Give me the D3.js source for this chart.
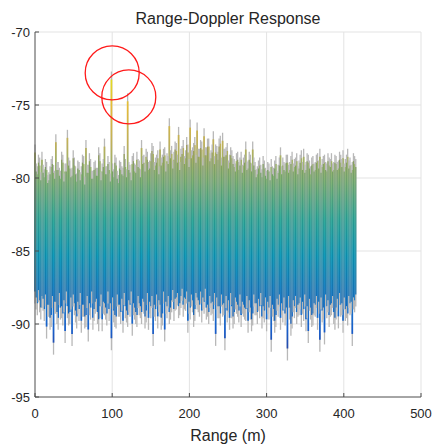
<!DOCTYPE html>
<html>
<head>
<meta charset="utf-8">
<script src="https://cdn.jsdelivr.net/npm/d3@7"></script>
<style>
  html, body { margin: 0; padding: 0; background: #fff; }
  svg { display: block; font-family: "Liberation Sans", Arial, Helvetica, sans-serif; }
</style>
</head>
<body>
<svg id="chart" width="435" height="447"></svg>
<script>
// ---------------- data ----------------
const rangeStep = 3; // metres between range bins
const rangeBins = d3.range(0, 415, rangeStep); // 0 .. 414 m
// highest response per range bin, first Doppler group (dB)
const peakLevel = [
  -77.7,-79.2,-78.6,-78.2,-79.4,-78.9,-79.6,-78.7,-79.1,-77.0,
  -78.9,-79.5,-78.4,-79.0,-76.7,-78.8,-79.3,-78.6,-79.7,-78.9,
  -79.2,-78.5,-77.4,-79.1,-78.7,-79.5,-78.8,-79.3,-78.3,-79.0,
  -77.3,-79.2,-78.9,-72.7,-79.4,-78.6,-79.8,-78.9,-79.3,-78.7,
  -74.2,-79.1,-78.5,-79.0,-78.2,-78.8,-77.4,-78.4,-78.0,-78.9,
  -78.3,-77.8,-78.6,-78.1,-77.5,-78.4,-77.9,-78.3,-75.9,-77.8,
  -78.2,-77.6,-76.5,-78.0,-77.4,-78.1,-77.7,-76.0,-77.9,-77.2,
  -76.2,-78.0,-77.5,-76.6,-77.9,-77.3,-78.1,-76.8,-77.7,-78.2,
  -77.1,-76.9,-78.0,-77.6,-78.4,-78.1,-78.7,-78.3,-78.9,-78.2,
  -78.6,-77.5,-78.8,-78.4,-77.5,-78.9,-79.2,-78.6,-79.4,-78.8,
  -79.5,-79.0,-78.7,-79.3,-78.5,-79.1,-77.9,-78.6,-79.0,-78.4,
  -78.9,-78.2,-78.7,-78.3,-78.8,-78.1,-78.0,-78.9,-78.4,-79.2,
  -78.5,-78.9,-78.3,-78.0,-78.7,-78.4,-79.0,-78.6,-78.3,-78.9,
  -78.5,-78.8,-78.4,-78.1,-78.7,-78.0,-78.6,-78.9,-78.5
];
// lowest response per range bin, first Doppler group (dB)
const floorLevel = [
  -88.6,-89.4,-89.2,-88.9,-89.8,-91.0,-89.5,-90.2,-92.1,-89.3,
  -90.4,-89.7,-90.1,-91.3,-89.6,-90.0,-91.5,-89.4,-90.3,-89.8,
  -90.6,-89.5,-90.2,-91.2,-89.7,-90.4,-89.3,-90.0,-89.6,-90.5,
  -89.4,-90.1,-89.8,-91.8,-89.9,-90.3,-89.5,-90.0,-90.6,-89.6,
  -90.2,-89.5,-90.8,-89.7,-90.2,-89.4,-90.0,-89.3,-89.9,-90.4,
  -89.6,-91.5,-89.8,-90.3,-89.5,-90.1,-91.2,-89.6,-90.0,-89.2,
  -89.8,-89.0,-89.6,-88.9,-89.5,-89.1,-90.6,-89.7,-89.2,-89.8,
  -89.0,-89.5,-89.9,-89.3,-89.7,-90.0,-89.4,-89.8,-91.5,-89.6,
  -90.1,-89.5,-91.8,-89.9,-90.4,-89.6,-90.0,-89.3,-89.9,-90.2,
  -89.5,-89.8,-90.6,-89.7,-90.1,-89.4,-90.0,-89.6,-90.3,-89.9,
  -90.5,-89.7,-91.9,-89.8,-90.2,-89.5,-90.4,-89.9,-90.1,-92.5,
  -89.7,-90.3,-89.6,-90.0,-89.4,-90.2,-89.8,-90.5,-91.3,-89.7,
  -90.1,-89.5,-90.4,-91.9,-89.9,-91.4,-89.6,-90.2,-89.4,-90.0,
  -89.7,-90.3,-89.5,-90.6,-89.8,-90.1,-89.4,-91.5,-89.2
];
// second Doppler group, sampled half a bin later (dB)
const peakLevel2 = [
  -79.0,-78.4,-79.6,-79.1,-78.7,-79.8,-79.2,-78.5,-79.5,-78.9,
  -79.3,-78.2,-79.7,-79.0,-78.6,-79.4,-78.1,-79.2,-78.8,-79.6,
  -78.4,-79.9,-79.1,-78.3,-79.5,-78.9,-79.3,-77.9,-79.6,-78.7,
  -79.2,-78.5,-79.7,-79.0,-78.4,-79.5,-78.8,-79.2,-77.8,-79.4,
  -78.9,-79.6,-78.3,-79.1,-78.7,-79.4,-78.5,-79.0,-78.2,-78.8,
  -77.6,-78.9,-78.4,-79.2,-78.6,-78.0,-79.0,-78.5,-78.1,-78.8,
  -77.5,-78.4,-78.9,-77.8,-78.5,-77.2,-78.7,-78.1,-77.6,-78.4,
  -78.0,-77.4,-78.6,-77.9,-77.3,-78.3,-77.7,-78.5,-77.8,-77.3,
  -78.6,-78.0,-77.9,-78.8,-77.9,-78.5,-79.0,-78.2,-78.6,-79.1,
  -78.4,-78.9,-78.2,-79.0,-78.6,-79.4,-78.8,-79.1,-78.5,-79.3,
  -78.9,-79.6,-79.2,-78.8,-79.5,-78.6,-79.2,-78.9,-78.4,-79.1,
  -78.5,-79.0,-78.6,-79.2,-78.4,-78.9,-79.1,-78.3,-78.8,-78.6,
  -79.0,-78.4,-78.8,-79.1,-78.5,-78.9,-78.3,-78.7,-79.0,-78.4,
  -78.9,-78.2,-78.7,-79.0,-78.4,-78.8,-79.1,-78.3,-78.7
];
const floorLevel2 = [
  -89.0,-88.5,-89.7,-89.1,-88.8,-89.5,-90.4,-88.9,-89.3,-90.0,
  -88.7,-89.6,-89.2,-88.6,-90.1,-89.0,-88.8,-89.9,-89.3,-88.7,
  -89.5,-90.3,-88.9,-89.4,-88.6,-89.8,-89.1,-90.5,-88.8,-89.3,
  -89.7,-88.6,-89.4,-89.0,-90.2,-88.8,-89.5,-89.1,-88.7,-89.9,
  -89.2,-88.6,-89.4,-90.0,-88.9,-89.6,-89.1,-90.3,-88.7,-89.3,
  -88.9,-89.5,-88.8,-89.2,-90.4,-88.6,-89.3,-88.9,-89.7,-88.5,
  -89.1,-88.7,-89.4,-88.4,-89.0,-88.6,-89.3,-88.8,-90.2,-88.7,
  -89.2,-88.6,-89.0,-88.4,-89.5,-88.9,-89.3,-88.7,-89.0,-89.6,
  -88.8,-89.4,-88.9,-89.2,-88.7,-90.3,-89.0,-89.5,-88.8,-89.3,
  -89.7,-88.9,-89.2,-90.5,-88.8,-89.4,-89.1,-88.7,-89.6,-89.0,
  -89.3,-88.9,-89.5,-90.6,-89.1,-88.8,-89.4,-89.0,-89.7,-88.9,
  -90.8,-89.2,-88.9,-89.5,-89.0,-89.3,-88.8,-89.6,-89.1,-90.2,
  -89.4,-88.9,-89.3,-89.0,-89.7,-88.8,-89.2,-89.5,-88.9,-90.4,
  -89.1,-88.7,-89.4,-89.0,-89.6,-88.9,-89.3,-89.0,-88.8
];
// highlighted targets (red circles)
const targetRange = [100, 121.5];
const targetLevel = [-72.8, -74.45];
// axes
const xTicks = [0, 100, 200, 300, 400, 500];
const yTicks = [-95, -90, -85, -80, -75, -70];
const titleText = "Range-Doppler Response";
const xLabelText = "Range (m)";
// parula colormap samples
const parula = ["#352a87","#0f5cdd","#1481d6","#06a4ca","#2eb7a4","#87bf77","#d1bb59","#fec832","#f9fb0e"];
const colorLimits = [-93, -72.6];

// ---------------- drawing ----------------
const svg = d3.select("#chart");
const margin = {left: 35, right: 14, top: 32, bottom: 50};
const W = 435, H = 447;
const x = d3.scaleLinear().domain([0, 500]).range([margin.left, W - margin.right]);
const y = d3.scaleLinear().domain([-95, -70]).range([H - margin.bottom, margin.top]);

const defs = svg.append("defs");
function makeGrad(id, mixColor, amount) {
  const g = defs.append("linearGradient")
    .attr("id", id).attr("gradientUnits", "userSpaceOnUse")
    .attr("x1", 0).attr("x2", 0)
    .attr("y1", y(colorLimits[0])).attr("y2", y(colorLimits[1]));
  parula.forEach((c, i) => g.append("stop")
    .attr("offset", i / (parula.length - 1))
    .attr("stop-color", d3.interpolateRgb(c, mixColor)(amount)));
}
makeGrad("parulaA", "#4a6a60", 0.14);
makeGrad("parulaB", "#14404a", 0.24);

// grid
const grid = svg.append("g");
grid.selectAll(".gx").data(xTicks.slice(1)).join("line")
  .attr("x1", d => x(d)).attr("x2", d => x(d))
  .attr("y1", y(-95)).attr("y2", y(-70))
  .attr("stroke", "#e3e3e3").attr("stroke-width", 1);
grid.selectAll(".gy").data(yTicks.slice(1)).join("line")
  .attr("x1", x(0)).attr("x2", x(500))
  .attr("y1", d => y(d)).attr("y2", d => y(d))
  .attr("stroke", "#e3e3e3").attr("stroke-width", 1);

// data strips
const binsA = rangeBins.map((r, i) => ({r, hi: peakLevel[i], lo: floorLevel[i]}));
const binsB = rangeBins.map((r, i) => ({r: r + rangeStep / 2, hi: peakLevel2[i], lo: floorLevel2[i]}));
const data = svg.append("g");
function strips(bins, cls, grad, w) {
  data.selectAll("." + cls + "e").data(bins).join("line").attr("class", cls + "e")
    .attr("x1", d => x(d.r)).attr("x2", d => x(d.r))
    .attr("y1", d => y(d.hi)).attr("y2", d => y(d.lo))
    .attr("stroke", "#b8b8b8").attr("stroke-width", 1.3);
  data.selectAll("." + cls + "f").data(bins).join("line").attr("class", cls + "f")
    .attr("x1", d => x(d.r)).attr("x2", d => x(d.r))
    .attr("y1", d => y(d.hi) + 8).attr("y2", d => y(d.lo) - 12)
    .attr("stroke", "url(#" + grad + ")").attr("stroke-width", w);
}
strips(binsA, "a", "parulaA", 1.7);
strips(binsB, "b", "parulaB", 1.2);

// axes
const axG = svg.append("g").attr("fill", "#262626").attr("font-size", 13);
axG.append("line").attr("x1", x(0)).attr("x2", x(0)).attr("y1", y(-95)).attr("y2", y(-70))
  .attr("stroke", "#4d4d4d");
axG.append("line").attr("x1", x(0)).attr("x2", x(500)).attr("y1", y(-95)).attr("y2", y(-95))
  .attr("stroke", "#4d4d4d");
axG.selectAll(".tx").data(xTicks).join("line")
  .attr("x1", d => x(d)).attr("x2", d => x(d)).attr("y1", y(-95)).attr("y2", y(-95) - 4)
  .attr("stroke", "#4d4d4d");
axG.selectAll(".ty").data(yTicks).join("line")
  .attr("x1", x(0)).attr("x2", x(0) + 4).attr("y1", d => y(d)).attr("y2", d => y(d))
  .attr("stroke", "#4d4d4d");
axG.selectAll(".lx").data(xTicks).join("text")
  .attr("x", d => x(d)).attr("y", y(-95) + 21).attr("text-anchor", "middle")
  .text(d => d);
axG.selectAll(".ly").data(yTicks).join("text")
  .attr("x", x(0) - 5).attr("y", d => y(d) + 5).attr("text-anchor", "end")
  .text(d => d);

svg.append("text").attr("x", (x(0) + x(500)) / 2).attr("y", 24)
  .attr("text-anchor", "middle").attr("font-size", 16).attr("fill", "#262626").text(titleText);
svg.append("text").attr("x", (x(0) + x(500)) / 2).attr("y", 441)
  .attr("text-anchor", "middle").attr("font-size", 16).attr("fill", "#262626").text(xLabelText);

// target circles
svg.append("g").selectAll("circle").data(targetRange).join("circle")
  .attr("cx", d => x(d)).attr("cy", (d, i) => y(targetLevel[i])).attr("r", 27)
  .attr("fill", "none").attr("stroke", "#ff1a1a").attr("stroke-width", 1.3);
</script>
</body>
</html>
